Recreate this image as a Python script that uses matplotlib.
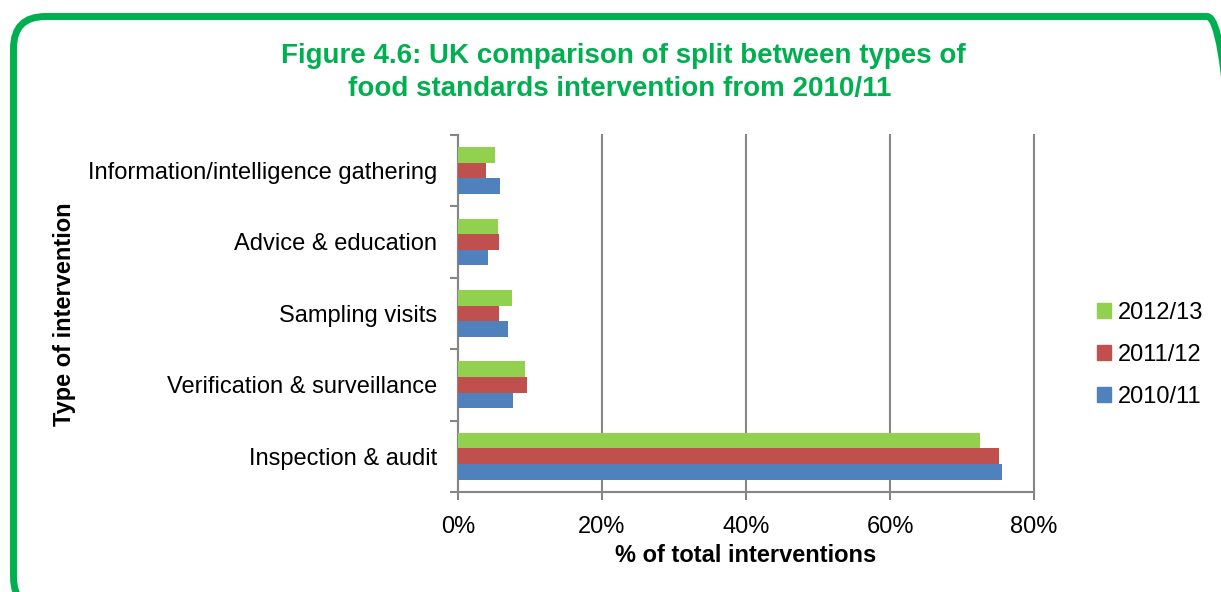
import matplotlib
matplotlib.use("Agg")
import matplotlib.pyplot as plt
import numpy as np
from matplotlib.patches import FancyBboxPatch, Patch
from matplotlib.transforms import IdentityTransform

plt.rcParams['font.family'] = ['Liberation Sans', 'DejaVu Sans']

# Intervention types, listed bottom to top
categories = [
    "Inspection & audit",
    "Verification & surveillance",
    "Sampling visits",
    "Advice & education",
    "Information/intelligence gathering",
]
# Share of total interventions (%)
share_2010_11 = [75.5, 7.6, 6.9, 4.1, 5.8]
share_2011_12 = [75.1, 9.6, 5.7, 5.7, 3.9]
share_2012_13 = [72.5, 9.3, 7.5, 5.5, 5.2]
x_ticks = [0, 20, 40, 60, 80]
x_tick_labels = ["0%", "20%", "40%", "60%", "80%"]

GREEN = "#92D050"
RED = "#C0504D"
BLUE = "#4F81BD"
TITLE_GREEN = "#00B050"
GRID = "#868686"
FS = 17

W, H = 1221, 592
fig = plt.figure(figsize=(W / 100, H / 100), dpi=100)

# Rounded green frame (pixel coordinates, origin bottom-left)
frame = FancyBboxPatch((13.5 + 32, -17 + 32), (1239 - 13.5) - 64, (575.5 - -17) - 64,
                       boxstyle="round,pad=32", transform=IdentityTransform(),
                       facecolor="none", edgecolor=TITLE_GREEN, linewidth=5.0)
fig.patches.append(frame)

x0, x1 = 458, 1034
y_top, y_bot = 134.7, 492
ax = fig.add_axes([x0 / W, 1 - y_bot / H, (x1 - x0) / W, (y_bot - y_top) / H])

pos = np.arange(len(categories))
h = 0.218
ax.barh(pos - h, share_2010_11, height=h, color=BLUE, label="2010/11", zorder=3)
ax.barh(pos, share_2011_12, height=h, color=RED, label="2011/12", zorder=3)
ax.barh(pos + h, share_2012_13, height=h, color=GREEN, label="2012/13", zorder=3)

ax.set_xlim(0, 80)
ax.set_ylim(-0.5, len(categories) - 0.5)
ax.set_xticks(x_ticks)
ax.set_xticklabels(x_tick_labels, fontsize=FS)
ax.set_yticks(pos)
ax.set_yticklabels(categories, fontsize=FS)
ax.set_yticks(np.arange(-0.5, len(categories), 1.0), minor=True)
ax.tick_params(axis='y', which='major', length=0, pad=15)
ax.tick_params(axis='y', which='minor', length=6, width=1.5, color=GRID, direction='out')
ax.tick_params(axis='x', length=6, width=1.5, color=GRID, direction='out', pad=11)

ax.grid(axis='x', color=GRID, linewidth=1.5, zorder=0)
for line in ax.get_xgridlines():
    line.set_clip_on(False)
for side in ['top', 'right']:
    ax.spines[side].set_visible(False)
for side in ['left', 'bottom']:
    ax.spines[side].set_color(GRID)
    ax.spines[side].set_linewidth(1.5)

fig.text(623 / W, 1 - 56 / H, "Figure 4.6: UK comparison of split between types of",
         ha='center', va='center', fontsize=20, fontweight='bold', color=TITLE_GREEN)
fig.text(620 / W, 1 - 89 / H, "food standards intervention from 2010/11",
         ha='center', va='center', fontsize=20, fontweight='bold', color=TITLE_GREEN)

fig.text(64 / W, 1 - 314 / H, "Type of intervention", rotation=90,
         ha='center', va='center', fontsize=FS, fontweight='bold')
fig.text(746 / W, 1 - 555 / H, "% of total interventions",
         ha='center', va='center', fontsize=FS, fontweight='bold')

handles = [Patch(color=GREEN), Patch(color=RED), Patch(color=BLUE)]
fig.legend(handles, ["2012/13", "2011/12", "2010/11"], loc='center left',
           bbox_to_anchor=(1078 / W, 1 - 355 / H), frameon=False, fontsize=FS,
           handlelength=0.6, handleheight=0.6, handletextpad=0.3, labelspacing=0.86,
           borderpad=0.3)

fig.savefig("out.png", dpi=100, facecolor="white")
